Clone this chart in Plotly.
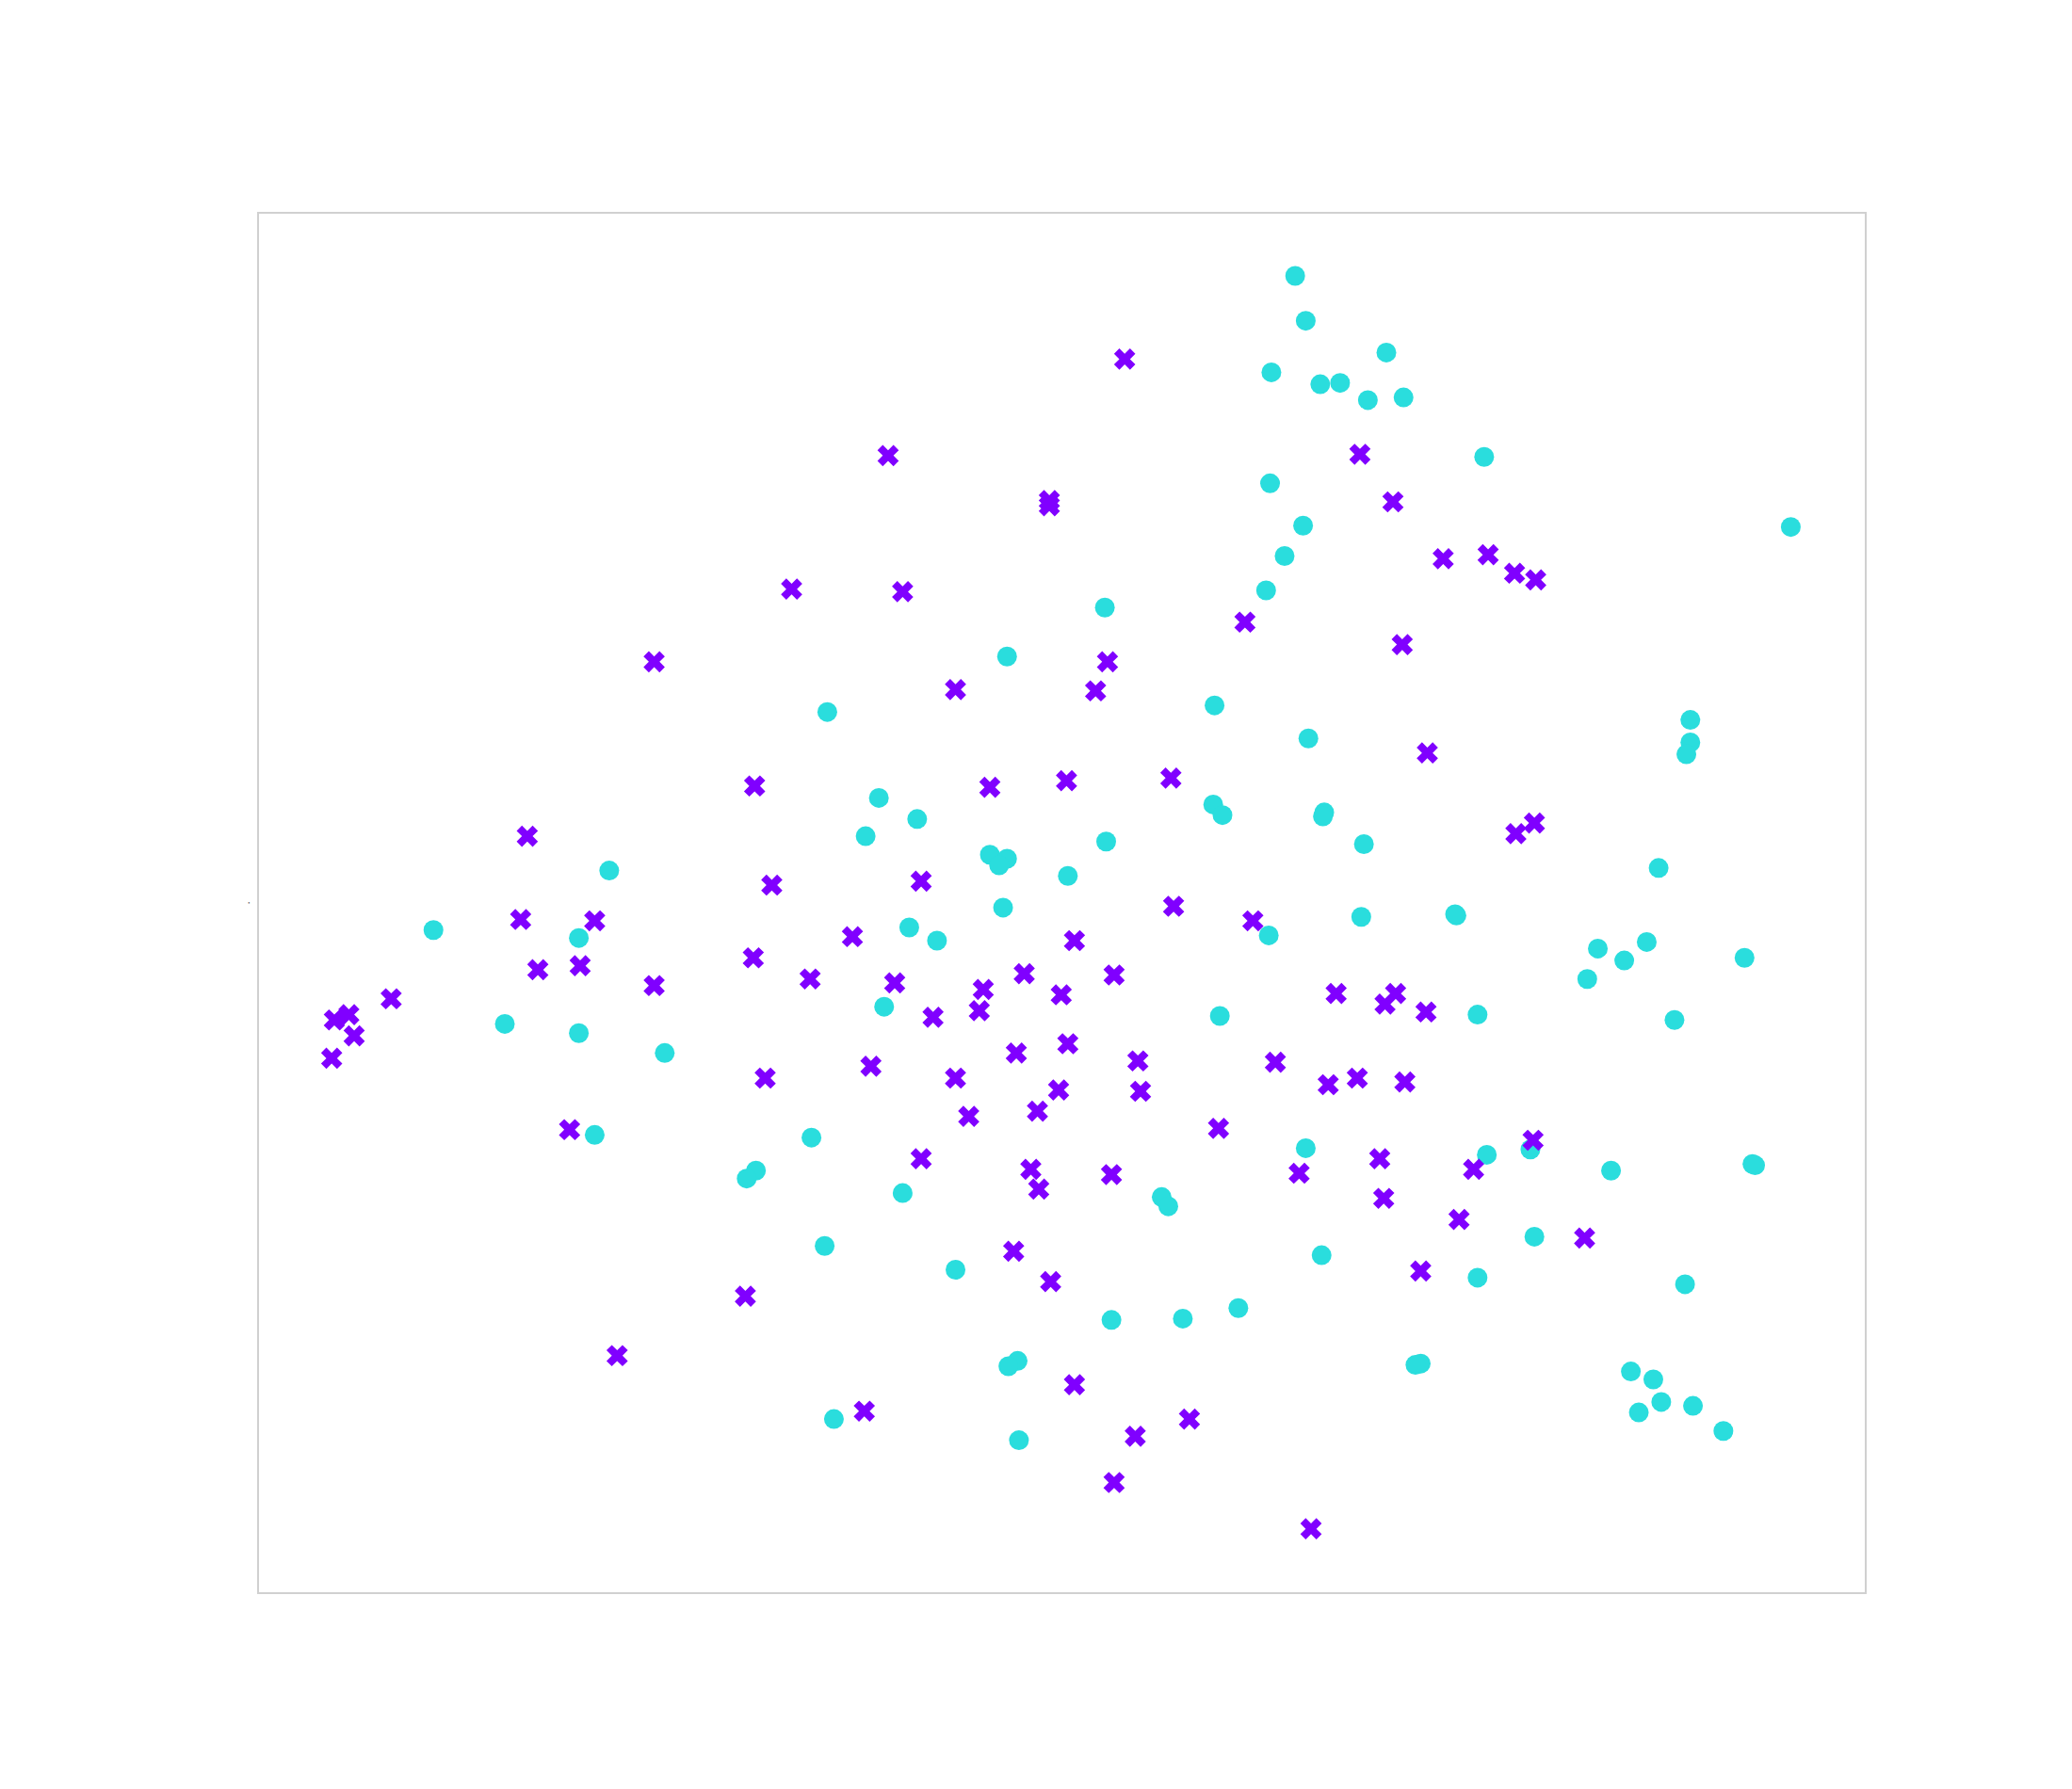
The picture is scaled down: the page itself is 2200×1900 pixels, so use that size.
import plotly.graph_objects as go

# 2-D embedding, two groups (coordinates)
cyan_x = [980, 988, 1049, 962, 999, 1014, 1035, 1062, 1123, 961, 986, 1355, 972, 958, 836, 762,
          626, 919, 990, 1279, 1279, 1276, 665, 694, 655, 918, 925, 1002, 1001, 837, 1032, 749,
          762, 756, 461, 808, 1255, 759, 1030, 1101, 1102, 688, 328, 438, 709, 960, 1246, 1209,
          1229, 1320, 1201, 669, 923, 1118, 1267, 382, 438, 503, 450, 614, 988, 1158, 1125, 1326,
          1328, 572, 565, 1219, 683, 879, 884, 1161, 624, 1000, 723, 1118, 1275, 937, 841, 895,
          770, 763, 1075, 1071, 1234, 1251, 1257, 1240, 1281, 631, 1304, 771]
cyan_y = [209, 243, 267, 282, 291, 290, 303, 301, 346, 366, 398, 399, 421, 447, 460, 497,
          539, 534, 559, 545, 562, 571, 604, 620, 633, 609, 617, 615, 618, 637, 639, 647,
          650, 655, 659, 663, 657, 687, 694, 692, 693, 702, 704, 710, 712, 708, 713, 718,
          727, 725, 741, 762, 769, 768, 772, 775, 782, 797, 859, 861, 869, 870, 874, 881,
          882, 886, 892, 886, 903, 906, 913, 936, 943, 950, 961, 967, 972, 990, 999, 998,
          1030, 1034, 1032, 1033, 1038, 1044, 1061, 1069, 1064, 1074, 1083, 1090]

purple_x = [851, 672, 1029, 794, 794, 1054, 1092, 1126, 1146, 1162, 599, 683, 942, 1061, 495, 838,
            723, 829, 1080, 571, 749, 807, 886, 1147, 1161, 399, 584, 697, 888, 394, 450, 948,
            645, 813, 570, 407, 439, 613, 775, 843, 495, 677, 744, 803, 1011, 1056, 1048, 296,
            741, 1079, 706, 253, 264, 268, 251, 769, 808, 659, 861, 965, 579, 723, 1027, 1063,
            1005, 801, 863, 785, 733, 431, 922, 1160, 697, 1044, 780, 1115, 841, 983, 786, 1047,
            1104, 1199, 767, 1075, 795, 564, 467, 813, 654, 900, 859, 843, 992]
purple_y = [272, 345, 344, 379, 383, 380, 423, 420, 434, 439, 446, 448, 471, 488, 501, 501,
            522, 523, 570, 595, 596, 591, 589, 631, 623, 633, 670, 667, 686, 696, 697, 697,
            709, 712, 725, 734, 731, 741, 737, 738, 746, 744, 749, 753, 752, 752, 760, 756,
            765, 766, 770, 772, 768, 784, 801, 797, 790, 807, 803, 804, 816, 816, 816, 819,
            821, 825, 826, 841, 845, 855, 854, 863, 877, 877, 885, 885, 889, 888, 900, 907,
            923, 937, 947, 962, 970, 981, 1026, 1048, 1068, 1074, 1087, 1122, 1157]

fig = go.Figure()

fig.add_trace(go.Scatter(
    x=cyan_x, y=cyan_y, mode='markers',
    marker=dict(symbol='circle', size=21, color='#2adddd'),
    showlegend=False
))

fig.add_trace(go.Scatter(
    x=purple_x, y=purple_y, mode='markers',
    marker=dict(symbol='x', size=20, color='#8000ff'),
    showlegend=False
))

frame = dict(showgrid=False, zeroline=False, showticklabels=False, ticks='',
             showline=True, mirror=True, linecolor='#d0d0d0', linewidth=1.5)

fig.update_layout(
    width=2200, height=1900,
    margin=dict(l=267, r=228, t=219, b=217),
    paper_bgcolor='white', plot_bgcolor='white',
    xaxis=dict(range=[196, 1411], **frame),
    yaxis=dict(range=[1205, 162], title=dict(text='.', font=dict(size=10, color='black'), standoff=6), **frame),
)

fig.write_html('out.html')
